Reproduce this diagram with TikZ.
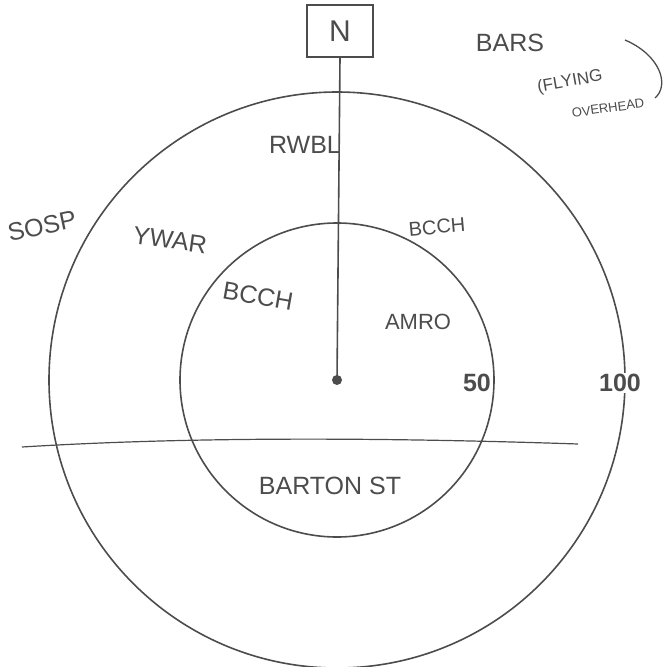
\documentclass[tikz,border=0pt]{standalone}
\usepackage{fontspec}
\setmainfont{Liberation Sans}
\begin{document}
\begin{tikzpicture}[x=1pt,y=-1pt,
  ink/.style={draw=black!70,line width=1.6pt},
  hand/.style={text=black!70,font=\fontsize{25}{27}\selectfont},
  num/.style={text=black!70,font=\bfseries\fontsize{25}{27}\selectfont}]
\useasboundingbox (0,0) rectangle (670,667);
\coordinate (c) at (337,380);
\draw[ink] (c) circle[radius=288];
\draw[ink] (c) circle[radius=157];
\node[ink,minimum width=66,minimum height=52,inner sep=0pt,hand,font=\fontsize{30}{32}\selectfont] (n) at (340,31) {N};
\fill[black!70] (c) circle[radius=5];
\draw[ink] (n.south) -- (c);
\coordinate (sl) at (22,447);
\coordinate (sr) at (578,444);
\draw[ink,line width=1.2pt] (sl) .. controls (200,436) and (400,438) .. (sr);
\node[hand] (rwbl) at (305,145) {RWBL};
\node[hand,rotate=12] (sosp) at (42,226) {SOSP};
\node[hand,rotate=-8] (ywar) at (170,240) {YWAR};
\node[hand,font=\fontsize{20}{22}\selectfont,rotate=5] (bcch1) at (437,227) {BCCH};
\node[hand,rotate=-10] (bcch2) at (258,296) {BCCH};
\node[hand,font=\fontsize{22}{24}\selectfont] (amro) at (418,322) {AMRO};
\node[hand] (barton) at (330,486) {BARTON ST};
\node[num,fill=white,inner sep=1pt] (n50) at (477,383) {50};
\node[num,fill=white,inner sep=1pt] (n100) at (620,383) {100};
\node[hand] (bars) at (510,43) {BARS};
\node[hand,font=\fontsize{17}{19}\selectfont,rotate=10] (fly) at (570,82) {(FLYING};
\node[hand,font=\fontsize{13}{15}\selectfont,rotate=8] (over) at (608,108) {OVERHEAD};
\coordinate (pa) at (625,40);
\coordinate (pb) at (655,98);
\draw[ink,line width=1.3pt] (pa) .. controls (660,55) and (670,85) .. (pb);
\end{tikzpicture}
\end{document}
